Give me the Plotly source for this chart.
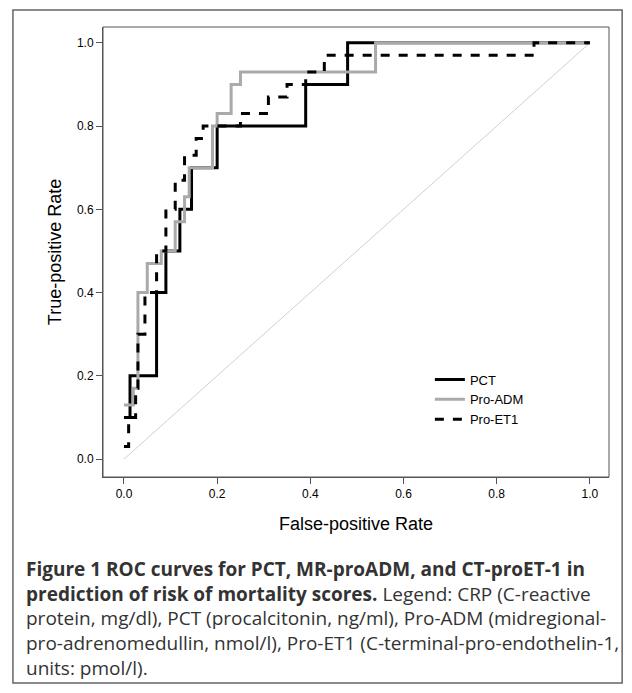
import plotly.graph_objects as go

pct_x = [0, 0.013, 0.013, 0.07, 0.07, 0.09, 0.09, 0.12, 0.12, 0.145, 0.145, 0.20, 0.20, 0.39, 0.39, 0.48, 0.48, 1.0]
pct_y = [0.1, 0.1, 0.2, 0.2, 0.4, 0.4, 0.5, 0.5, 0.6, 0.6, 0.7, 0.7, 0.8, 0.8, 0.9, 0.9, 1.0, 1.0]

adm_x = [0, 0.02, 0.02, 0.03, 0.03, 0.05, 0.05, 0.08, 0.08, 0.11, 0.11, 0.13, 0.13, 0.14, 0.14, 0.19, 0.19, 0.20, 0.20, 0.23, 0.23, 0.25, 0.25, 0.54, 0.54, 1.0]
adm_y = [0.13, 0.13, 0.17, 0.17, 0.4, 0.4, 0.47, 0.47, 0.5, 0.5, 0.57, 0.57, 0.63, 0.63, 0.7, 0.7, 0.8, 0.8, 0.83, 0.83, 0.9, 0.9, 0.93, 0.93, 1.0, 1.0]

et_x = [0, 0.01, 0.01, 0.025, 0.025, 0.03, 0.03, 0.045, 0.045, 0.07, 0.07, 0.09, 0.09, 0.11, 0.11, 0.13, 0.13, 0.155, 0.155, 0.17, 0.17, 0.25, 0.25, 0.31, 0.31, 0.35, 0.35, 0.39, 0.39, 0.43, 0.43, 0.48, 0.48, 0.88, 0.88, 1.0]
et_y = [0.03, 0.03, 0.1, 0.1, 0.17, 0.17, 0.3, 0.3, 0.4, 0.4, 0.5, 0.5, 0.6, 0.6, 0.67, 0.67, 0.73, 0.73, 0.77, 0.77, 0.8, 0.8, 0.83, 0.83, 0.87, 0.87, 0.9, 0.9, 0.93, 0.93, 0.97, 0.97, 0.97, 0.97, 1.0, 1.0]

fig = go.Figure()
fig.add_trace(go.Scatter(x=[0, 1], y=[0, 1], mode='lines', showlegend=False, line=dict(color='#d0d0d0', width=1)))
fig.add_trace(go.Scatter(x=pct_x, y=pct_y, mode='lines', name='PCT', line=dict(color='black', width=3)))
fig.add_trace(go.Scatter(x=adm_x, y=adm_y, mode='lines', name='Pro-ADM', line=dict(color='#aaaaaa', width=3)))
fig.add_trace(go.Scatter(x=et_x, y=et_y, mode='lines', name='Pro-ET1', line=dict(color='black', width=3, dash='dash')))

axis_font = dict(family='Arial, Liberation Sans', size=12, color='black')
title_font = dict(family='Arial, Liberation Sans', size=18, color='black')
ticks = [0, 0.2, 0.4, 0.6, 0.8, 1.0]
tick_text = ['0.0', '0.2', '0.4', '0.6', '0.8', '1.0']
fig.update_xaxes(range=[-0.045, 1.041], tickvals=ticks, ticktext=tick_text,
                 showgrid=False, zeroline=False, showline=True, linecolor='#555', ticks='outside', ticklen=6, tickcolor='#555',
                 tickfont=axis_font, title=dict(text='False-positive Rate', font=title_font, standoff=16))
fig.update_yaxes(range=[-0.043, 1.038], tickvals=ticks, ticktext=tick_text,
                 showgrid=False, zeroline=False, showline=True, linecolor='#555', ticks='outside', ticklen=6, tickcolor='#555',
                 tickfont=axis_font, title=dict(text='True-positive Rate', font=title_font, standoff=10))

# plot frame
fig.add_shape(type='rect', xref='paper', yref='paper', x0=0, x1=1, y0=0, y1=1, line=dict(color='#555', width=1))
# border around the whole figure
fig.add_shape(type='rect', xref='paper', yref='paper', layer='above',
              x0=-0.178, x1=1.026, y0=-0.458, y1=1.038, line=dict(color='#666', width=1.5))

caption = ('<b>Figure 1 ROC curves for PCT, MR-proADM, and CT-proET-1 in</b><br>'
           '<b>prediction of risk of mortality scores.</b> Legend: CRP (C-reactive<br>'
           'protein, mg/dl), PCT (procalcitonin, ng/ml), Pro-ADM (midregional-<br>'
           'pro-adrenomedullin, nmol/l), Pro-ET1 (C-terminal-pro-endothelin-1,<br>'
           'units: pmol/l).')
fig.add_annotation(xref='paper', yref='paper', x=-0.156, y=-0.171, xanchor='left', yanchor='top', align='left',
                   text=caption, showarrow=False, font=dict(family='Open Sans', size=19, color='#333'))

fig.update_layout(width=616, height=677, paper_bgcolor='white', plot_bgcolor='white',
                  margin=dict(l=95, r=15, t=19, b=208),
                  legend=dict(x=0.646, y=0.25, xanchor='left', yanchor='top', bgcolor='rgba(0,0,0,0)',
                              font=dict(family='Arial, Liberation Sans', size=13, color='black'), tracegroupgap=0))
fig.write_html('out.html')
